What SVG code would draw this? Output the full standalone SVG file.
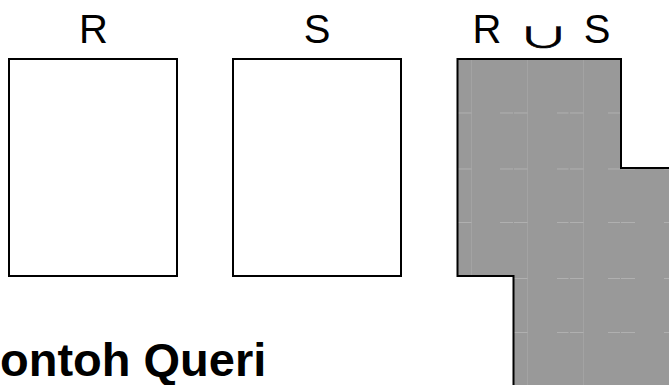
<svg xmlns="http://www.w3.org/2000/svg" width="669" height="385" viewBox="0 0 669 385">
<style>
.lbl{font-family:"Liberation Sans",Arial,"DejaVu Sans",sans-serif;font-size:40px;fill:#000}
.cup{font-family:"Noto Sans CJK JP","DejaVu Sans",sans-serif;font-size:40px;fill:#000;stroke:#000;stroke-width:0.7}
.box{fill:#fff;stroke:#000;stroke-width:2}
.uni{fill:#999;stroke:none}
.edge{fill:none;stroke:#000;stroke-width:2}
.gv{stroke:#a3a3a3;stroke-width:1}
.gh{stroke:#b0b0b0;stroke-width:1}
.title{font-family:"Liberation Sans",Arial,sans-serif;font-size:47px;font-weight:bold;fill:#000}
</style>
<defs>
<clipPath id="uclip">
<polygon points="457.5,59 621,59 621,168 672,168 672,388 513.5,388 513.5,276 457.5,276"/>
</clipPath>
<g id="hrow">
<line x1="458" y1="0" x2="471.5" y2="0"/>
<line x1="500" y1="0" x2="513" y2="0"/>
<line x1="514" y1="0" x2="527.5" y2="0"/>
<line x1="557" y1="0" x2="568.5" y2="0"/>
<line x1="570" y1="0" x2="583.5" y2="0"/>
<line x1="608" y1="0" x2="620" y2="0"/>
<line x1="621" y1="0" x2="635" y2="0"/>
<line x1="664" y1="0" x2="672" y2="0"/>
</g>
</defs>
<g id="node-R">
<text class="lbl" x="93.5" y="43" text-anchor="middle">R</text>
<rect class="box" x="9" y="59" width="168" height="217"/>
</g>
<g id="node-S">
<text class="lbl" x="317" y="43" text-anchor="middle">S</text>
<rect class="box" x="233" y="59" width="168" height="217"/>
</g>
<g id="node-RuS">
<text class="lbl" x="487" y="43" text-anchor="middle">R</text>
<text class="cup" transform="translate(543.5,47.8) scale(1.3,0.7)" text-anchor="middle">∪</text>
<text class="lbl" x="597" y="43" text-anchor="middle">S</text>
<polygon class="uni" points="457.5,59 621,59 621,168 672,168 672,388 513.5,388 513.5,276 457.5,276"/>
<g clip-path="url(#uclip)">
<g class="gv">
<line x1="471.5" y1="59" x2="471.5" y2="276"/>
<line x1="527.5" y1="59" x2="527.5" y2="388"/>
<line x1="583.5" y1="59" x2="583.5" y2="388"/>
</g>
<g class="gh">
<use href="#hrow" y="113"/>
<use href="#hrow" y="169"/>
<use href="#hrow" y="222.5"/>
<use href="#hrow" y="278.5"/>
<use href="#hrow" y="332.5"/>
</g>
</g>
<polyline class="edge" points="672,168 621,168 621,59 457.5,59 457.5,276 513.5,276 513.5,388"/>
</g>
<g id="connectors"></g>
<g id="title">
<text class="title" x="0" y="376">ontoh Queri</text>
</g>
</svg>
